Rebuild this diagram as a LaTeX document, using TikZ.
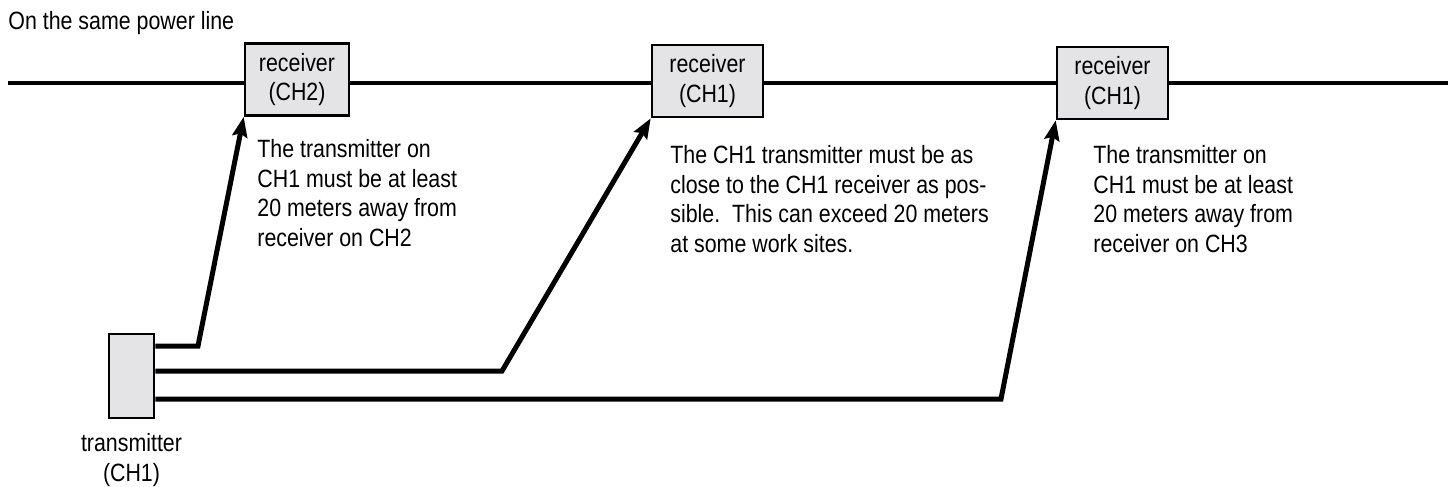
\documentclass[tikz,border=0pt]{standalone}
\usepackage{fontspec}
\setmainfont{Liberation Sans}[FakeStretch=0.855]
\usetikzlibrary{arrows.meta,positioning}
\definecolor{boxgray}{RGB}{228,228,230}
\tikzset{
  every node/.style={font=\fontsize{12.5}{14.75}\selectfont},
  rxbox/.style={draw,line width=1.3pt,fill=boxgray,minimum width=55.5pt,minimum height=36pt,align=center,inner sep=0pt},
  feed/.style={line width=2.5pt,-{Stealth[length=10pt,width=7.5pt,inset=1.5pt]}},
  note/.style={anchor=base west,align=left,inner sep=0pt}
}
\begin{document}
\begin{tikzpicture}[x=0.5pt,y=-0.5pt]
\useasboundingbox (0,0) rectangle (1453,487);

% Power line
\node[anchor=base west,inner sep=0pt] (title) at (8,29) {On the same power line};
\coordinate (lineW) at (8,83);
\coordinate (lineE) at (1448,83);
\draw[line width=2.3pt] (lineW) -- (lineE);

% Receivers on the line
\node[rxbox,minimum width=52pt] (rx1) at (297,79.5) {receiver\\(CH2)};
\node[rxbox] (rx2) at (707.5,81) {receiver\\(CH1)};
\node[rxbox] (rx3) at (1112.5,83) {receiver\\(CH1)};

% Transmitter
\node[draw,line width=1.3pt,fill=boxgray,minimum width=22.5pt,minimum height=42pt,inner sep=0pt] (tx) at (131.5,376) {};
\node[below=7pt of tx,align=center,inner sep=0pt] (txlabel) {transmitter\\(CH1)};

% Feeds from the transmitter
\coordinate (bend1) at (198,346);
\coordinate (bend2) at (502,371);
\coordinate (bend3) at (1001,399);
\draw[feed] (tx.east |- bend1) -- (bend1) -- (rx1.south west);
\draw[feed] (tx.east |- bend2) -- (bend2) -- (rx2.south west);
\draw[feed] (tx.east |- bend3) -- (bend3) -- (rx3.south west);

% Notes (base = last line)
\node[note] (note1) at (257,246) {The transmitter on\\CH1 must be at least\\20 meters away from\\receiver on CH2};
\node[note] (note2) at (670,252) {The CH1 transmitter must be as\\close to the CH1 receiver as pos-\\sible.\ \ This can exceed 20 meters\\at some work sites.};
\node[note] (note3) at (1093,252) {The transmitter on\\CH1 must be at least\\20 meters away from\\receiver on CH3};
\end{tikzpicture}
\end{document}
